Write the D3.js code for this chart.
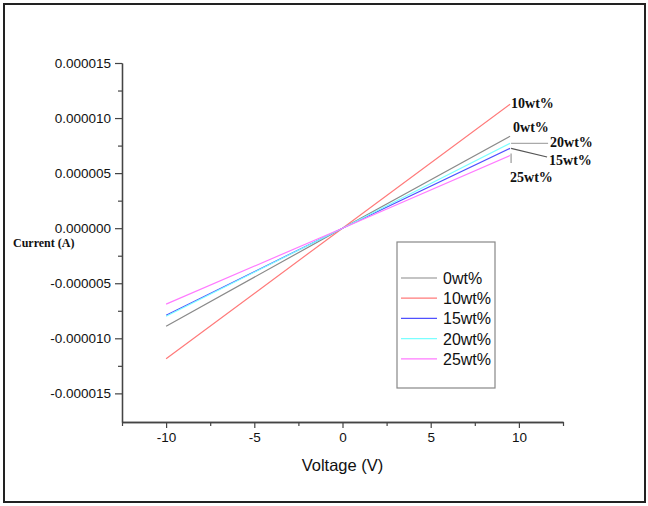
<!DOCTYPE html>
<html>
<head>
<meta charset="utf-8">
<script src="https://cdn.jsdelivr.net/npm/d3@7"></script>
<style>
  html, body { margin: 0; padding: 0; background: #fff; }
  svg { display: block; }
</style>
</head>
<body>
<div id="root"></div>
<script>
"use strict";

// voltage points (V) and currents (A)
const voltage = [-10, 0, 9.5];
const series = ["0wt%", "10wt%", "15wt%", "20wt%", "25wt%"];
const current0 = [-8.9e-6, 0, 8.35e-6];
const current10 = [-11.85e-6, 0, 11.25e-6];
const current15 = [-7.9e-6, 0, 7.25e-6];
const current20 = [-8.0e-6, 0, 7.7e-6];
const current25 = [-6.9e-6, 0, 6.6e-6];
const colors = ["#8a8a8a", "#ff7a7a", "#5050ff", "#7affff", "#ff7aff"];

const xMajor = [-10, -5, 0, 5, 10];
const xMinor = [-12.5, -7.5, -2.5, 2.5, 7.5, 12.5];
const yMajor = [-15e-6, -10e-6, -5e-6, 0, 5e-6, 10e-6, 15e-6];
const yMinor = [-12.5e-6, -7.5e-6, -2.5e-6, 2.5e-6, 7.5e-6, 12.5e-6];

const width = 648;
const height = 506;
const plotLeft = 122;
const plotRight = 563;
const plotTop = 63;
const plotBottom = 422;

const x = d3.scaleLinear().domain([-12.5, 12.5]).range([plotLeft, plotRight]);
const y = d3.scaleLinear().domain([-17.6e-6, 15e-6]).range([plotBottom, plotTop]);

const svg = d3.select("#root")
  .append("svg")
  .attr("width", width)
  .attr("height", height);

// outer frame
svg.append("rect")
  .attr("x", 4).attr("y", 4)
  .attr("width", 641).attr("height", 498)
  .attr("fill", "none")
  .attr("stroke", "#222")
  .attr("stroke-width", 2);

const axisColor = "#444";

function styleAxis(g, size) {
  g.select(".domain").attr("stroke", axisColor).attr("stroke-width", 1.3);
  g.selectAll(".tick line").attr("stroke", axisColor).attr("stroke-width", 1.2);
  g.selectAll(".tick text")
    .attr("fill", "#111")
    .style("font-family", "'Liberation Sans', Arial, sans-serif")
    .style("font-size", size);
}

// y axis
const yAxis = svg.append("g")
  .attr("transform", `translate(${plotLeft},0)`)
  .call(d3.axisLeft(y).tickValues(yMajor).tickSize(7).tickSizeOuter(0).tickPadding(4)
    .tickFormat((d) => d.toFixed(6)));
styleAxis(yAxis, "13.5px");
const yMinorAxis = svg.append("g")
  .attr("transform", `translate(${plotLeft},0)`)
  .call(d3.axisLeft(y).tickValues(yMinor).tickSize(4).tickSizeOuter(0).tickFormat(""));
styleAxis(yMinorAxis, "0px");

// x axis
const xAxis = svg.append("g")
  .attr("transform", `translate(0,${plotBottom})`)
  .call(d3.axisBottom(x).tickValues(xMajor).tickSize(6).tickSizeOuter(0).tickPadding(4)
    .tickFormat((d) => String(d)));
styleAxis(xAxis, "13.5px");
const xMinorAxis = svg.append("g")
  .attr("transform", `translate(0,${plotBottom})`)
  .call(d3.axisBottom(x).tickValues(xMinor).tickSize(4).tickSizeOuter(0).tickFormat(""));
styleAxis(xMinorAxis, "0px");

// axis titles
svg.append("text")
  .attr("x", x(0))
  .attr("y", 471)
  .attr("text-anchor", "middle")
  .style("font-family", "'Liberation Sans', Arial, sans-serif")
  .style("font-size", "16.5px")
  .attr("fill", "#111")
  .text("Voltage (V)");

svg.append("text")
  .attr("x", 13)
  .attr("y", 247)
  .style("font-family", "'Liberation Serif', 'Times New Roman', serif")
  .style("font-weight", "bold")
  .style("font-size", "12px")
  .attr("fill", "#111")
  .text("Current (A)");

// lines
const currents = [current0, current10, current15, current20, current25];
const line = d3.line()
  .x((d) => x(d[0]))
  .y((d) => y(d[1]));

currents.forEach((c, i) => {
  svg.append("path")
    .datum(voltage.map((v, j) => [v, c[j]]))
    .attr("fill", "none")
    .attr("stroke", colors[i])
    .attr("stroke-width", 1.2)
    .attr("d", line);
});

// end labels with leader lines
const endV = voltage[voltage.length - 1];
const endX = x(endV);
const labelFont = "'Liberation Serif', 'Times New Roman', serif";
const notes = [
  { s: 1, tx: endX + 1, ty: 108, lead: null },
  { s: 0, tx: endX + 3, ty: 132, lead: null },
  { s: 3, tx: endX + 40, ty: 147, lead: [endX + 1, y(current20[2]), endX + 38, y(current20[2])], lc: "#aaa" },
  { s: 2, tx: endX + 39, ty: 165, lead: [endX + 1, y(current15[2]), endX + 37, 157], lc: "#555" },
  { s: 4, tx: endX, ty: 182, lead: [endX + 1, y(current25[2]) - 2, endX + 1, 163], lc: "#999" },
];
notes.forEach((n) => {
  if (n.lead) {
    svg.append("line")
      .attr("x1", n.lead[0]).attr("y1", n.lead[1])
      .attr("x2", n.lead[2]).attr("y2", n.lead[3])
      .attr("stroke", n.lc)
      .attr("stroke-width", 1.2);
  }
  svg.append("text")
    .attr("x", n.tx)
    .attr("y", n.ty)
    .style("font-family", labelFont)
    .style("font-weight", "bold")
    .style("font-size", "14px")
    .attr("fill", "#111")
    .text(series[n.s]);
});

// legend
const legend = svg.append("g");
legend.append("rect")
  .attr("x", 397).attr("y", 242)
  .attr("width", 98).attr("height", 146)
  .attr("fill", "#fff")
  .attr("stroke", "#888")
  .attr("stroke-width", 1.2);

series.forEach((s, i) => {
  const ly = 278 + i * 20.2;
  legend.append("line")
    .attr("x1", 401).attr("x2", 437)
    .attr("y1", ly).attr("y2", ly)
    .attr("stroke", colors[i])
    .attr("stroke-width", 1.2);
  legend.append("text")
    .attr("x", 443)
    .attr("y", ly + 6)
    .style("font-family", "'Liberation Sans', Arial, sans-serif")
    .style("font-size", "16px")
    .attr("fill", "#111")
    .text(s);
});
</script>
</body>
</html>
